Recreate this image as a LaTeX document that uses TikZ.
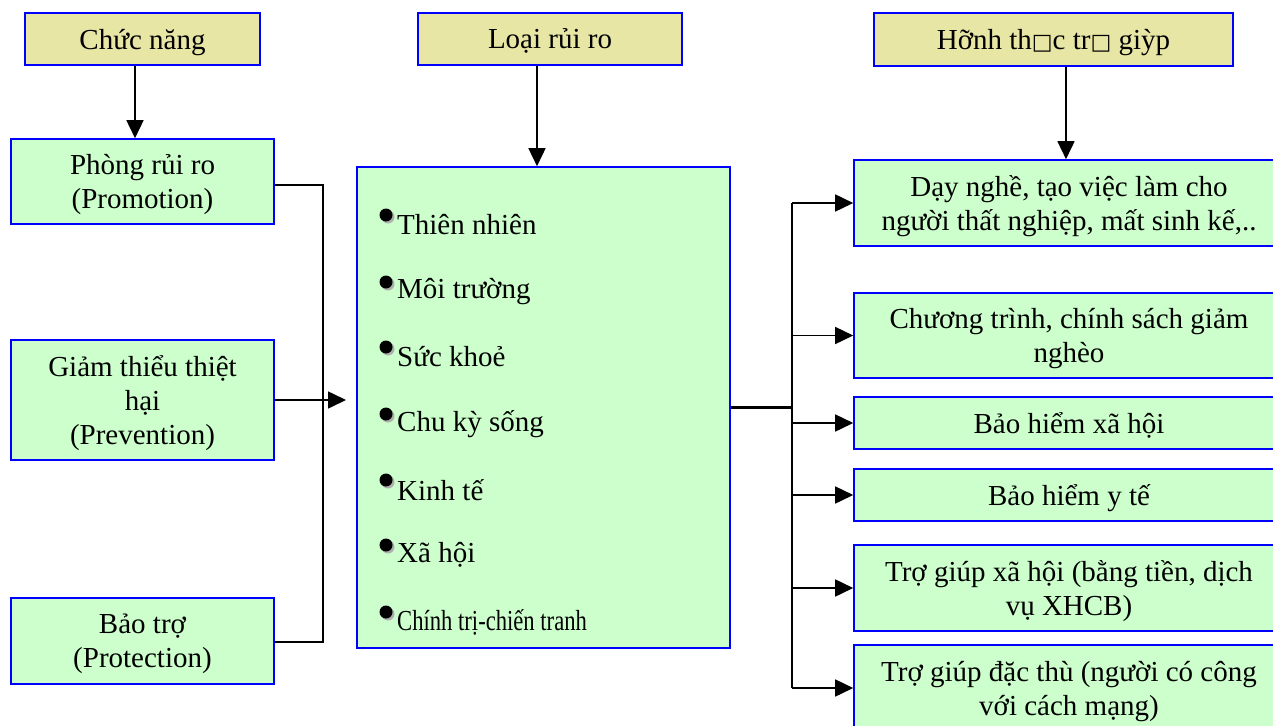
\documentclass[tikz,border=0pt]{standalone}
\usepackage{fontspec}
\setmainfont{Liberation Serif}
\newfontfamily\glyphfont{DejaVu Serif}
\usetikzlibrary{arrows.meta}

\definecolor{khaki}{RGB}{232,230,165}
\definecolor{mint}{RGB}{204,255,204}
\definecolor{bulletgrey}{RGB}{175,175,175}

\tikzset{
  headbox/.style={draw=blue, line width=1.6pt, fill=khaki, inner sep=0pt, align=center, text depth=0pt},
  greenbox/.style={draw=blue, line width=1.6pt, fill=mint, inner sep=0pt, align=center, text depth=0pt},
  link/.style={line width=1.6pt},
  arr/.style={link, -{Triangle[length=18pt,width=17pt]}},
  entry/.style={anchor=west, inner sep=0pt},
}
\newcommand{\missing}{{\fontsize{22}{22}\glyphfont\symbol{"25A1}}}

\begin{document}
\begin{tikzpicture}[x=1pt, y=-1pt, font=\fontsize{29}{34}\selectfont]
\useasboundingbox (0,0) rectangle (1273,725);

% headers
\node[headbox, minimum width=235pt, minimum height=52pt] (h1) at (142.5,39) {Chức năng};
\node[headbox, minimum width=264pt, minimum height=52pt] (h2) at (550,39) {Loại rủi ro};
\node[headbox, minimum width=359pt, minimum height=53pt] (h3) at (1053.5,39.5) {Hỡnh th\missing c tr\missing{} giỳp};

% left column
\node[greenbox, minimum width=263pt, minimum height=85pt] (p1) at (142.5,181.5) {Phòng rủi ro\\(Promotion)};
\node[greenbox, minimum width=263pt, minimum height=120pt] (p2) at (142.5,400) {Giảm thiểu thiệt\\hại\\(Prevention)};
\node[greenbox, minimum width=263pt, minimum height=86pt] (p3) at (142.5,641) {Bảo trợ\\(Protection)};

% middle column
\node[greenbox, minimum width=373pt, minimum height=481pt] (m) at (543.5,407.5) {};
\foreach \n/\y/\t in {1/225/Thiên nhiên, 2/292/Môi trường, 3/357/Sức khoẻ, 4/424/Chu kỳ sống,
                      5/490/Kinh tế, 6/555/Xã hội, 7/622/{\scalebox{0.78}[1]{Chính trị-chiến tranh}}} {
  \node[entry] (i\n) at (397,\y) {\t};
  \fill[bulletgrey] (388,\y-8) circle (6.5);
  \fill (386,\y-10) circle (6.5);
}

% right column
\node[greenbox, minimum width=430pt, minimum height=86pt] (r1) at (1069,203) {Dạy nghề, tạo việc làm cho\\người thất nghiệp, mất sinh kế,..};
\node[greenbox, minimum width=430pt, minimum height=85pt] (r2) at (1069,335.5) {Chương trình, chính sách giảm\\nghèo};
\node[greenbox, minimum width=430pt, minimum height=52pt] (r3) at (1069,423) {Bảo hiểm xã hội};
\node[greenbox, minimum width=430pt, minimum height=52pt] (r4) at (1069,495) {Bảo hiểm y tế};
\node[greenbox, minimum width=430pt, minimum height=86pt] (r5) at (1069,588) {Trợ giúp xã hội (bằng tiền, dịch\\vụ XHCB)};
\node[greenbox, minimum width=430pt, minimum height=86pt] (r6) at (1069,688) {Trợ giúp đặc thù (người có công\\với cách mạng)};

% header arrows
\draw[arr] ([xshift=-7.5pt]h1.south) -- ([xshift=-7.5pt]h1.south |- p1.north);
\draw[arr] ([xshift=-13pt]h2.south) -- ([xshift=-13pt]h2.south |- m.north);
\draw[arr] ([xshift=12.5pt]h3.south) -- ([xshift=12.5pt]h3.south |- r1.north);

% left bracket
\coordinate (jin) at (346,400);
\draw[link] ([yshift=-3.5pt]p1.east) -- ++(48,0) |- ([yshift=-1pt]p3.east);
\draw[arr] (p2.east) -- (jin);

% right fan
\coordinate (jout) at (792,407.5);
\draw[line width=2.4pt] (m.east) -- (jout);
\draw[line width=2pt] (jout |- r1.west) -- (jout |- r6.west);
\foreach \r in {r1,r2,r3,r4,r5,r6}
  \draw[arr] (jout |- \r.west) -- (\r.west);
\end{tikzpicture}
\end{document}
